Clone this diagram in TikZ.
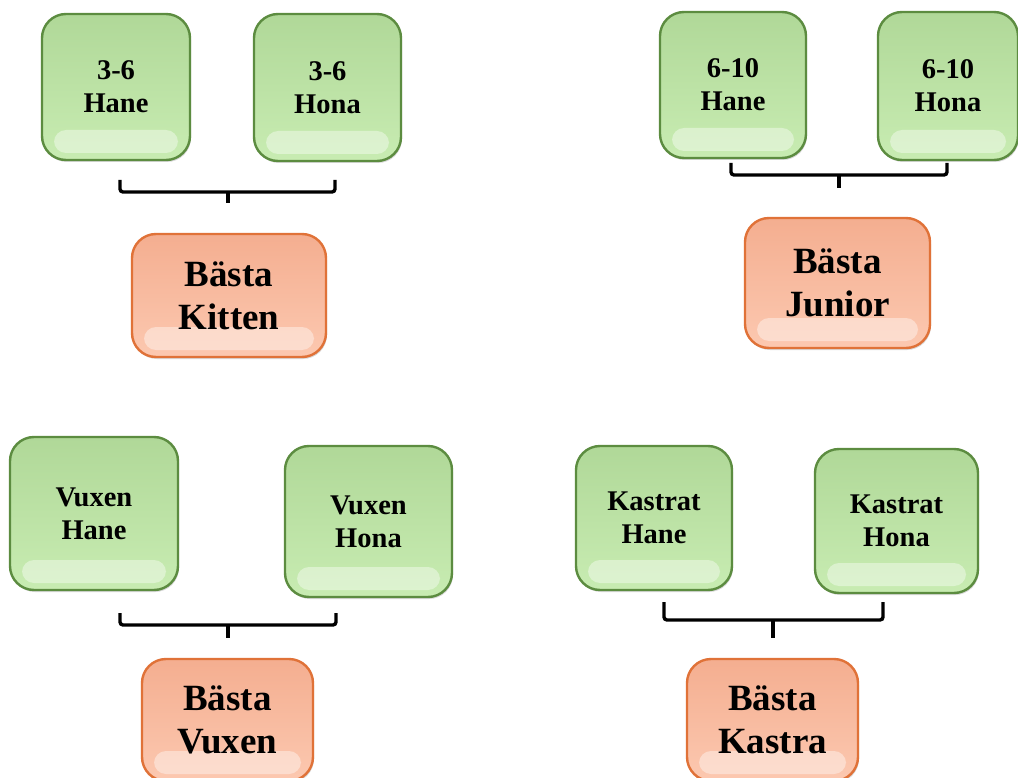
\documentclass[tikz,border=0pt]{standalone}
\usepackage{fontspec}
\setmainfont{Liberation Serif}
\usepackage{tikz}
\usetikzlibrary{calc,shadows}

\definecolor{boxgreen}{RGB}{176,216,152}
\definecolor{boxgreenlight}{RGB}{200,236,178}
\definecolor{boxgreenline}{RGB}{92,140,64}
\definecolor{boxorange}{RGB}{244,174,144}
\definecolor{boxorangelight}{RGB}{252,200,176}
\definecolor{boxorangeline}{RGB}{224,114,56}

\tikzset{
  glossbox/.style={rounded corners=24pt, line width=2.4pt, align=center, inner sep=0pt,
    drop shadow={opacity=0.3, shadow xshift=1pt, shadow yshift=-2pt},
    path picture={\fill[white,opacity=0.4,rounded corners=12pt]
      ($(path picture bounding box.south west)+(12pt,7pt)$) rectangle
      ($(path picture bounding box.south east)+(-12pt,30pt)$);}},
  catbox/.style={glossbox, draw=boxgreenline, top color=boxgreen, bottom color=boxgreenlight,
    font=\bfseries\fontsize{28.5}{33}\selectfont},
  bestbox/.style={glossbox, draw=boxorangeline, top color=boxorange, bottom color=boxorangelight,
    font=\bfseries\fontsize{37}{43}\selectfont},
  bracket/.style={line width=3.4pt, rounded corners=3pt}
}

\begin{document}
\begin{tikzpicture}[x=1pt,y=-1pt]
\useasboundingbox (0,0) rectangle (1018,778);
\clip (0,0) rectangle (1018,778);
% kitten
\node[catbox, minimum width=148pt, minimum height=146pt] (kitHane) at (116,87) {3-6\\Hane};
\node[catbox, minimum width=147pt, minimum height=147pt] (kitHona) at (327.5,87.5) {3-6\\Hona};
\node[bestbox, minimum width=194pt, minimum height=123pt] (kitBest) at (229,295.5) {Bästa\\Kitten};
% junior
\node[catbox, minimum width=146pt, minimum height=146pt] (junHane) at (733,85) {6-10\\Hane};
\node[catbox, minimum width=140pt, minimum height=148pt] (junHona) at (948,86) {6-10\\Hona};
\node[bestbox, minimum width=185pt, minimum height=130pt] (junBest) at (837.5,283) {Bästa\\Junior};
% vuxen
\node[catbox, minimum width=168pt, minimum height=153pt] (vuxHane) at (94,513.5) {Vuxen\\Hane};
\node[catbox, minimum width=167pt, minimum height=151pt] (vuxHona) at (368.5,521.5) {Vuxen\\Hona};
\node[bestbox, minimum width=171pt, minimum height=122pt] (vuxBest) at (227.5,720) {Bästa\\Vuxen};
% kastrat
\node[catbox, minimum width=156pt, minimum height=144pt] (kasHane) at (654,518) {Kastrat\\Hane};
\node[catbox, minimum width=163pt, minimum height=144pt] (kasHona) at (896.5,521) {Kastrat\\Hona};
\node[bestbox, minimum width=171pt, minimum height=122pt] (kasBest) at (772.5,720) {Bästa\\Kastra};

% brackets
\coordinate (kitL) at (120,180);
\coordinate (kitM) at (228,192);
\coordinate (kitR) at (335,180);
\coordinate (kitT) at (228,203);
\coordinate (junL) at (731,163);
\coordinate (junM) at (839,175);
\coordinate (junR) at (947,163);
\coordinate (junT) at (839,188);
\coordinate (vuxL) at (120,613);
\coordinate (vuxM) at (228,625);
\coordinate (vuxR) at (336,613);
\coordinate (vuxT) at (228,638);
\coordinate (kasL) at (664,602);
\coordinate (kasM) at (773,620);
\coordinate (kasR) at (883,602);
\coordinate (kasT) at (773,638);
\foreach \g in {kit,jun,vux,kas}{
  \draw[bracket] (\g L) |- (\g M) -| (\g R);
  \draw[bracket] (\g M) -- (\g T);
}
\end{tikzpicture}
\end{document}
